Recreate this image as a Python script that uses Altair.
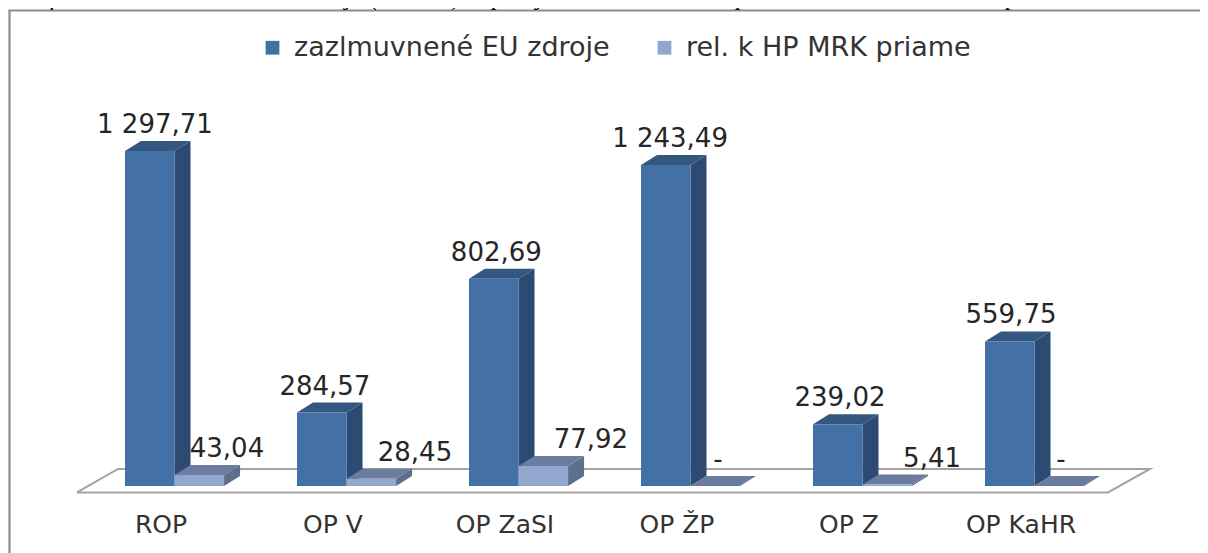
import altair as alt
import pandas as pd

TITLE = "Graf č. 1 – Zazmluvnené EU zdroje (v mil. €) napĺňajúce ciele HP MRK podľa OP k 31. 12. 2011 – priame"
categories = ["ROP", "OP V", "OP ZaSI", "OP ŽP", "OP Z", "OP KaHR"]
series_names = ["zazlmuvnené EU zdroje", "rel. k HP MRK priame"]
main_values = [1297.71, 284.57, 802.69, 1243.49, 239.02, 559.75]
rel_values = [43.04, 28.45, 77.92, 0, 5.41, 0]
main_labels = ["1 297,71", "284,57", "802,69", "1 243,49", "239,02", "559,75"]
rel_labels = ["43,04", "28,45", "77,92", "-", "5,41", "-"]

# geometry of the pseudo-3D columns, in scale units
BAR_W = 0.288
BAR_L = -0.2093
DEPTH_X = 0.093
DEPTH_Y = 38.7
main_label_nudge = [0.011, -0.001, -0.004, 0.006, -0.006, -0.012]
rel_label_nudge = [0.145, 0.238, 0.261, 0.0, 0.244, -0.006]

W, H = 1192, 545
x_scale = alt.Scale(domain=[-0.8895, 6.0407], nice=False, zero=False)
y_scale = alt.Scale(domain=[-259.5, 1851.3], nice=False, zero=False)
X = alt.X("x:Q", scale=x_scale, axis=None)
Y = alt.Y("y:Q", scale=y_scale, axis=None)


def faces(values, left):
    side, top, front = [], [], []
    for i, v in enumerate(values):
        l = i + left
        r = l + BAR_W
        side += [
            dict(id=i, x=r, y=0, y2=v),
            dict(id=i, x=r + DEPTH_X, y=DEPTH_Y, y2=v + DEPTH_Y),
        ]
        top += [
            dict(id=i, x=l, y=v, y2=v),
            dict(id=i, x=l + DEPTH_X, y=v + DEPTH_Y, y2=v),
            dict(id=i, x=r, y=v + DEPTH_Y, y2=v),
            dict(id=i, x=r + DEPTH_X, y=v + DEPTH_Y, y2=v + DEPTH_Y),
        ]
        front.append(dict(id=i, x=l, x2=r, y=0, y2=v))
    return pd.DataFrame(side), pd.DataFrame(top), pd.DataFrame(front)


def area(df, color):
    return alt.Chart(df).mark_area(color=color, opacity=1).encode(
        x=X, y=Y, y2="y2:Q", detail="id:N"
    )


m_side, m_top, m_front = faces(main_values, BAR_L)
r_side, r_top, r_front = faces(rel_values, BAR_L + BAR_W)
m_front["series"] = series_names[0]
r_front["series"] = series_names[1]

color = alt.Color(
    "series:N",
    scale=alt.Scale(domain=series_names, range=["#4371A6", "#92A7CF"]),
    legend=alt.Legend(
        title=None,
        orient="none",
        direction="horizontal",
        legendX=251,
        legendY=26,
        symbolType="square",
        symbolSize=190,
        symbolStrokeWidth=0,
        labelFontSize=27,
        labelFont="DejaVu Sans",
        labelColor="#333333",
        labelLimit=600,
        columnPadding=41,
        labelOffset=8,
    ),
)


def front(df):
    return alt.Chart(df).mark_rect(opacity=1).encode(
        x=X, x2="x2:Q", y=Y, y2="y2:Q", color=color
    )


floor_df = pd.DataFrame(
    {
        "k": [0, 1, 2, 3, 4],
        "x": [-0.4884, 5.5058, 5.75, -0.25, -0.4884],
        "y": [-25, -25, 66, 66, -25],
    }
)
floor = alt.Chart(floor_df).mark_line(color="#A3A3A3", strokeWidth=2).encode(
    x=X, y=Y, order=alt.Order("k:Q")
)

TXT = dict(font="DejaVu Sans", color="#262626", baseline="middle", align="center")
LABEL_ABOVE = 62 + DEPTH_Y

main_lab = pd.DataFrame(
    {
        "x": [i + BAR_L + 0.163 + n for i, n in enumerate(main_label_nudge)],
        "y": [v + LABEL_ABOVE for v in main_values],
        "t": main_labels,
    }
)
rel_lab = pd.DataFrame(
    {
        "x": [i + BAR_L + BAR_W + 0.16 + n for i, n in enumerate(rel_label_nudge)],
        "y": [v + LABEL_ABOVE for v in rel_values],
        "t": rel_labels,
    }
)
value_text = (
    alt.Chart(pd.concat([main_lab, rel_lab]))
    .mark_text(fontSize=26, **TXT)
    .encode(x=X, y=Y, text="t:N")
)

cat_df = pd.DataFrame({"x": list(range(len(categories))), "t": categories})
cat_text = (
    alt.Chart(cat_df)
    .mark_text(fontSize=25, font="DejaVu Sans", color="#333333", baseline="middle", align="center")
    .encode(x=X, y=alt.value(517), text="t:N")
)

anchor = pd.DataFrame({"t": [TITLE]})
title = (
    alt.Chart(anchor)
    .mark_text(fontSize=25, font="Liberation Serif", fontStyle="italic", color="#000000",
               align="left", baseline="alphabetic")
    .encode(x=alt.value(2), y=alt.value(-3), text="t:N")
)
frame_l = alt.Chart(anchor).mark_rule(color="#8C8C8C", strokeWidth=2.2).encode(
    x=alt.value(1.5), y=alt.value(2), y2=alt.value(H)
)
frame_t = alt.Chart(anchor).mark_rule(color="#8C8C8C", strokeWidth=2.2).encode(
    x=alt.value(0.5), x2=alt.value(W), y=alt.value(2.5)
)

chart = (
    alt.layer(
        frame_l, frame_t, title, floor,
        area(m_side, "#2C4A72"), area(m_top, "#34577F"), front(m_front),
        area(r_side, "#5D6F8C"), area(r_top, "#6B7C9E"), front(r_front),
        value_text, cat_text,
    )
    .resolve_scale(x="shared", y="shared")
    .properties(width=W, height=H, padding=0, background="white",
                autosize=alt.AutoSizeParams(type="none"))
    .configure_view(stroke=None)
)

chart.save("out.html", embed_options={"renderer": "svg", "actions": False})
